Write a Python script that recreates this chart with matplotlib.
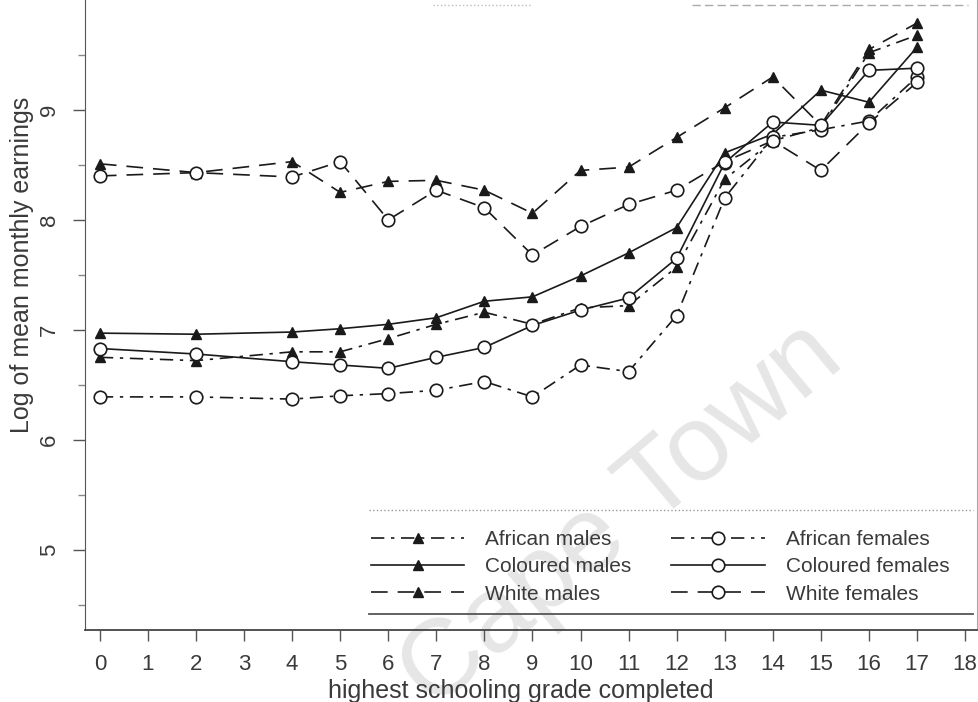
import matplotlib.pyplot as plt
from matplotlib.lines import Line2D
import numpy as np

plt.rcParams['font.family'] = ['Liberation Sans', 'DejaVu Sans']

grades = [0, 2, 4, 5, 6, 7, 8, 9, 10, 11, 12, 13, 14, 15, 16, 17]

african_males = [6.75, 6.72, 6.80, 6.80, 6.92, 7.05, 7.16, 7.05, 7.20, 7.22, 7.57, 8.37, 8.72, 8.84, 9.52, 9.68]
coloured_males = [6.97, 6.96, 6.98, 7.01, 7.05, 7.11, 7.26, 7.30, 7.49, 7.70, 7.93, 8.61, 8.78, 9.18, 9.07, 9.57]
white_males = [8.51, 8.43, 8.53, 8.25, 8.35, 8.36, 8.27, 8.06, 8.45, 8.48, 8.75, 9.02, 9.30, 8.86, 9.55, 9.79]

african_females = [6.39, 6.39, 6.37, 6.40, 6.42, 6.45, 6.53, 6.39, 6.68, 6.62, 7.13, 8.20, 8.75, 8.82, 8.90, 9.30]
coloured_females = [6.83, 6.78, 6.71, 6.68, 6.65, 6.75, 6.84, 7.04, 7.18, 7.29, 7.65, 8.52, 8.89, 8.86, 9.36, 9.38]
white_females = [8.40, 8.43, 8.39, 8.53, 8.00, 8.27, 8.11, 7.68, 7.94, 8.14, 8.27, 8.53, 8.72, 8.45, 8.88, 9.25]

series = [
    ('African males', african_males, '^', (0, (8, 4, 2, 4))),
    ('Coloured males', coloured_males, '^', '-'),
    ('White males', white_males, '^', (0, (10, 6))),
    ('African females', african_females, 'o', (0, (8, 4, 2, 4))),
    ('Coloured females', coloured_females, 'o', '-'),
    ('White females', white_females, 'o', (0, (10, 6))),
]

ink = '#1a1a1a'
txt = '#3a3a3a'

fig = plt.figure(figsize=(9.79, 7.02), dpi=100)
ax = fig.add_axes([0.0868, 0.1026, 0.9112, 0.8974])
ax.patch.set_alpha(0)

# faint watermark, behind everything
fig.text(0.635, 0.265, 'Cape Town', fontsize=78, color='#e6e6e6',
         rotation=40, ha='center', va='center', zorder=-5)

for name, vals, mk, ls in series:
    if mk == '^':
        ax.plot(grades, vals, color=ink, lw=1.2, ls=ls, marker='^', ms=6.5,
                mfc=ink, mec=ink, label=name)
    else:
        ax.plot(grades, vals, color=ink, lw=1.2, ls=ls, marker='o', ms=9,
                mfc='white', mec=ink, mew=1.2, label=name)

ax.set_xlim(-0.31, 18.25)
ax.set_ylim(4.27, 10.0)
ax.set_xticks(range(0, 19))
ax.set_yticks([5, 6, 7, 8, 9])
ax.set_yticks(np.arange(4.5, 10, 1.0), minor=True)

ax.tick_params(axis='x', direction='out', length=8, width=1, color='#555555',
               labelsize=16, labelcolor=txt, pad=9)
ax.tick_params(axis='y', which='major', direction='out', length=9, width=1,
               color='#555555', labelsize=16, labelcolor=txt, pad=9,
               labelrotation=90)
ax.tick_params(axis='y', which='minor', direction='out', length=5, width=1,
               color='#888888')
for lab in ax.get_yticklabels():
    lab.set_va('center')

ax.spines['top'].set_visible(False)
ax.spines['left'].set_color('#555555')
ax.spines['bottom'].set_color('#444444')
ax.spines['bottom'].set_linewidth(1.3)
ax.spines['right'].set_color('#aaaaaa')

ax.set_xlabel('highest schooling grade completed', fontsize=18, color=txt)
ax.set_ylabel('Log of mean monthly earnings', fontsize=18, color=txt)
ax.xaxis.set_label_coords(0.488, -0.078)
ax.yaxis.set_label_coords(-0.057, 0.58)

leg = ax.legend(ncol=2, loc='lower right', bbox_to_anchor=(0.99, 0.012),
                frameon=False, fontsize=15, labelcolor=txt, handlelength=4.5,
                columnspacing=1.9, labelspacing=0.4, handletextpad=1.0)

# rules above and below the legend, and the faint scan line at the top
ax.add_line(Line2D([0.318, 0.995], [0.19, 0.19], transform=ax.transAxes,
                   color='#999999', lw=1, ls=':'))
ax.add_line(Line2D([0.318, 0.995], [0.025, 0.025], transform=ax.transAxes,
                   color='#555555', lw=1.3))
ax.add_line(Line2D([0.39, 0.50], [0.992, 0.992], transform=ax.transAxes,
                   color='#bbbbbb', lw=1, ls=':', clip_on=False))
ax.add_line(Line2D([0.68, 0.99], [0.992, 0.992], transform=ax.transAxes,
                   color='#aaaaaa', lw=1, ls=(0, (6, 3)), clip_on=False))

fig.savefig('out.png', dpi=100)
